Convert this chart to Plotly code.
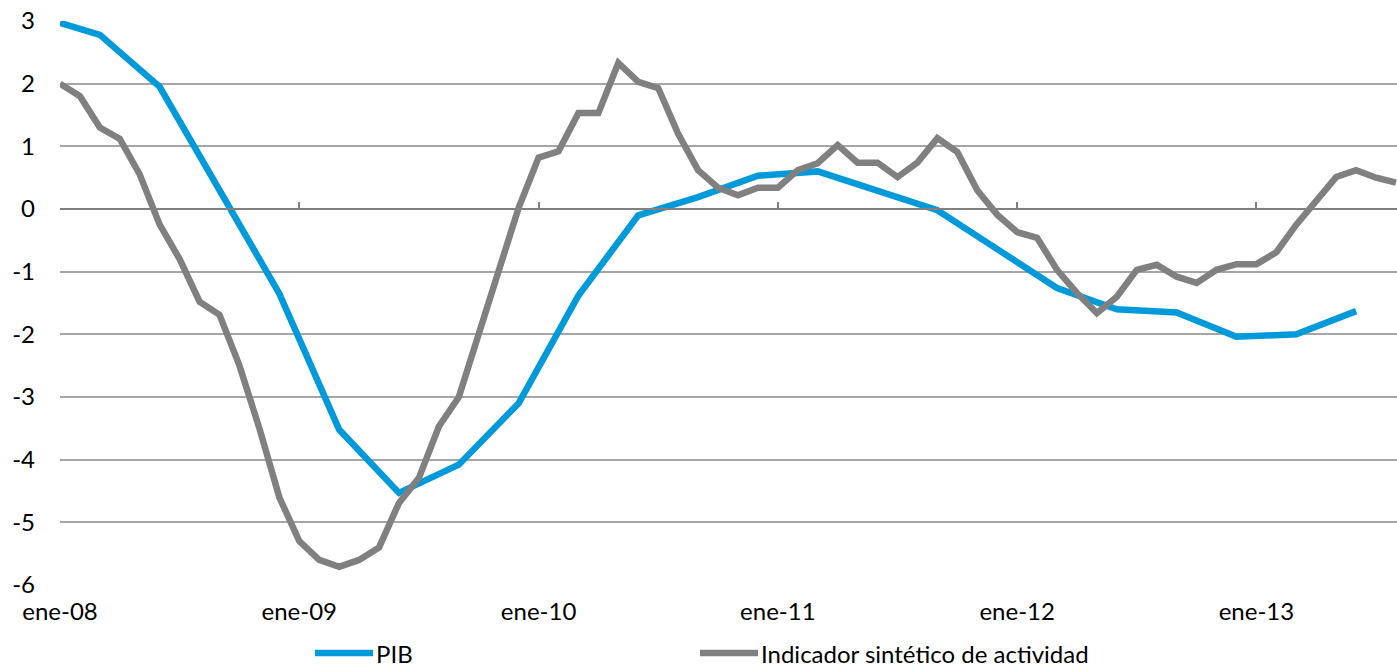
import plotly.graph_objects as go

# Monthly categories ene-08 .. ago-13 (index 0..67)
months = ["ene", "feb", "mar", "abr", "may", "jun", "jul", "ago", "sep", "oct", "nov", "dic"]
years = ["08", "09", "10", "11", "12", "13"]
categories = [f"{m}-{y}" for y in years for m in months][:68]
x_idx = list(range(len(categories)))

tick_labels = ["ene-08", "ene-09", "ene-10", "ene-11", "ene-12", "ene-13"]
tick_pos = [categories.index(t) for t in tick_labels]

indicador = [
    2.0, 1.8, 1.3, 1.12, 0.55, -0.25, -0.8, -1.48, -1.69, -2.5, -3.5, -4.6,
    -5.3, -5.6, -5.71, -5.6, -5.4, -4.69, -4.29, -3.47, -3.0, -2.0, -1.0, 0.02,
    0.82, 0.92, 1.53, 1.53, 2.33, 2.03, 1.93, 1.2, 0.62, 0.34, 0.22, 0.34,
    0.34, 0.62, 0.73, 1.02, 0.74, 0.74, 0.51, 0.74, 1.13, 0.91, 0.3, -0.09,
    -0.37, -0.46, -0.97, -1.34, -1.66, -1.4, -0.97, -0.89, -1.08, -1.18, -0.97, -0.88,
    -0.88, -0.69, -0.25, 0.15, 0.51, 0.62, 0.5, 0.42,
]

pib_points = {
    0: 2.97, 2: 2.78, 5: 1.95, 8: 0.3, 11: -1.35, 14: -3.52, 17: -4.53, 20: -4.08,
    23: -3.1, 26: -1.38, 29: -0.1, 32: 0.19, 35: 0.53, 38: 0.6, 41: 0.3, 44: -0.02,
    47: -0.64, 50: -1.26, 53: -1.6, 56: -1.65, 59: -2.04, 62: -2.0, 65: -1.63,
}
pib = [pib_points.get(i) for i in x_idx]

y_ticks = [3, 2, 1, 0, -1, -2, -3, -4, -5, -6]

BLUE = "#009ADA"
GREY = "#808080"
FONT = "Lato"
FSIZE = 24

fig = go.Figure()
fig.add_trace(go.Scatter(
    x=x_idx, y=pib, mode="lines", name="PIB", connectgaps=True,
    line=dict(color=BLUE, width=6.5, shape="linear"),
))
fig.add_trace(go.Scatter(
    x=x_idx, y=indicador, mode="lines", name="Indicador sintético de actividad",
    line=dict(color=GREY, width=6.5),
))

# axis line through zero with tick marks (xaxis2)
fig.add_trace(go.Scatter(x=[0], y=[0], xaxis="x2", mode="markers",
                         marker=dict(opacity=0), showlegend=False, hoverinfo="skip"))

fig.update_layout(
    width=1397, height=670,
    margin=dict(l=60, r=0, t=21, b=85, autoexpand=False),
    plot_bgcolor="white", paper_bgcolor="white",
    showlegend=False,
    font=dict(family=FONT, size=FSIZE, color="#000000"),
    xaxis=dict(
        range=[0, 67.05], tickvals=tick_pos, ticktext=tick_labels,
        showgrid=False, zeroline=False, showline=False, ticks="",
        ticklabelstandoff=10, tickfont=dict(size=FSIZE), automargin=False,
    ),
    xaxis2=dict(
        range=[0, 67.05], overlaying="x", anchor="free", position=6 / 9,
        side="bottom", tickvals=tick_pos, showticklabels=False,
        showline=True, linecolor=GREY, linewidth=2,
        ticks="inside", ticklen=6, tickwidth=1.5, tickcolor=GREY,
        showgrid=False, zeroline=False, automargin=False,
    ),
    yaxis=dict(
        range=[-6, 3], tickvals=y_ticks, ticktext=[str(v) for v in y_ticks],
        showgrid=True, gridcolor="#A6A6A6", gridwidth=1.5,
        zeroline=False, showline=False, ticks="",
        ticklabelstandoff=24, tickfont=dict(size=FSIZE), automargin=False,
    ),
)

# Custom legend (Excel-style long line samples)
legend_items = [("PIB", BLUE, 315), ("Indicador sintético de actividad", GREY, 700)]
plot_w = 1397 - 60
legend_y = (585 - 653) / 564
for name, color, px in legend_items:
    x0 = (px - 60) / plot_w
    x1 = (px + 58 - 60) / plot_w
    fig.add_shape(type="line", xref="paper", yref="paper", x0=x0, x1=x1,
                  y0=legend_y, y1=legend_y, line=dict(color=color, width=6.5))
    fig.add_annotation(text=name, xref="paper", yref="paper", x=x1 + 1 / plot_w,
                       y=legend_y, xanchor="left", yanchor="middle", showarrow=False,
                       font=dict(family=FONT, size=FSIZE, color="#000000"))

fig.write_html(
    "out.html",
    config={"displayModeBar": False},
    post_script="document.body.style.margin='0';document.body.style.overflow='hidden';",
)
